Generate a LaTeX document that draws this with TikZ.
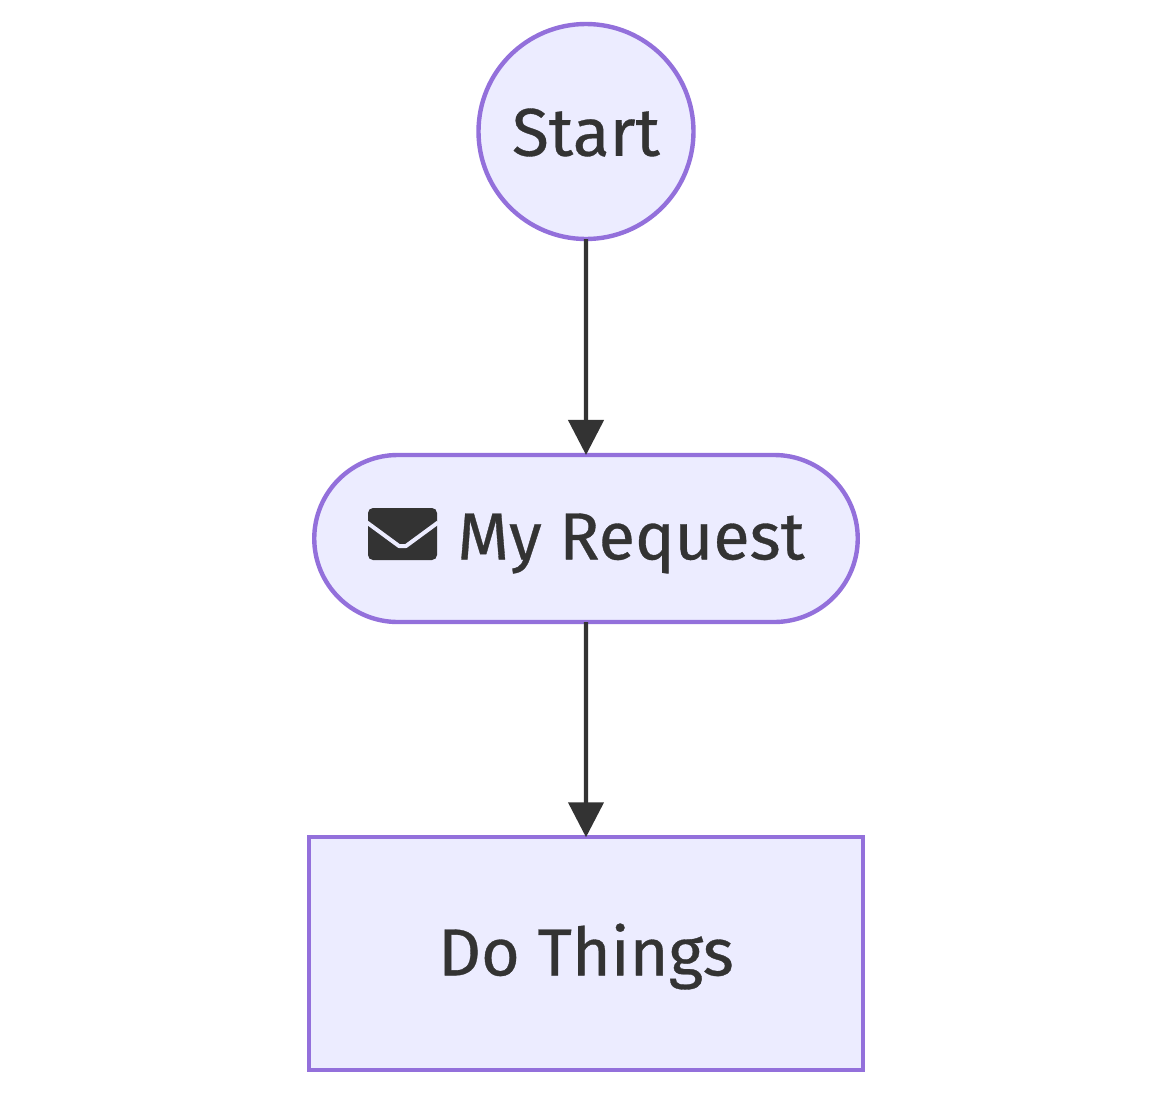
\documentclass[tikz,border=0pt]{standalone}
\usepackage{fontspec}
\setmainfont{Fira Sans}[RawFeature={embolden=0.5}]
\usetikzlibrary{shapes.misc,arrows.meta}
\definecolor{nodefill}{HTML}{ECECFF}
\definecolor{nodeline}{HTML}{9370DB}
\definecolor{ink}{HTML}{333333}
\newcommand{\lowered}[2]{\raisebox{-#1}[\height][\depth]{#2}}
\tikzset{
  x=1pt,y=-1pt,
  base/.style={draw=nodeline,fill=nodefill,line width=4.4pt,text=ink,inner sep=0pt,outer sep=0pt,font=\fontsize{66.5}{80}\selectfont},
  startnode/.style={base,circle,minimum size=215pt},
  pill/.style={base,rounded rectangle,minimum width=543.5pt,minimum height=167pt},
  boxnode/.style={base,rectangle,minimum width=553.5pt,minimum height=232.5pt},
  flow/.style={draw=ink,line width=4.4pt,-{Triangle[length=35pt,width=35pt,sep=0pt]},shorten >=0pt}
}
\begin{document}
\begin{tikzpicture}
\useasboundingbox (0,0) rectangle (1152,1093);
\node[startnode] (s) at (586,131.5) {\lowered{1pt}{\fontsize{67.5}{80}\selectfont Start}};
\node[pill] (r) at (586,538.5) {\lowered{5pt}{\hspace{90pt}My Request}};
\node[boxnode] (d) at (586,953.5) {\lowered{3pt}{Do Things}};
\draw[flow] (s) -- (r);
\draw[flow] (r) -- (d);
% envelope icon
\begin{scope}[shift={(r.center)}]
\fill[ink,rounded corners=5pt] (-218,-30.5) rectangle (-149,21.5);
\draw[nodefill,line width=4pt,line join=round] (-219,-16) -- (-187,7.5) -- (-180,7.5) -- (-148,-16);
\end{scope}
\end{tikzpicture}
\end{document}
